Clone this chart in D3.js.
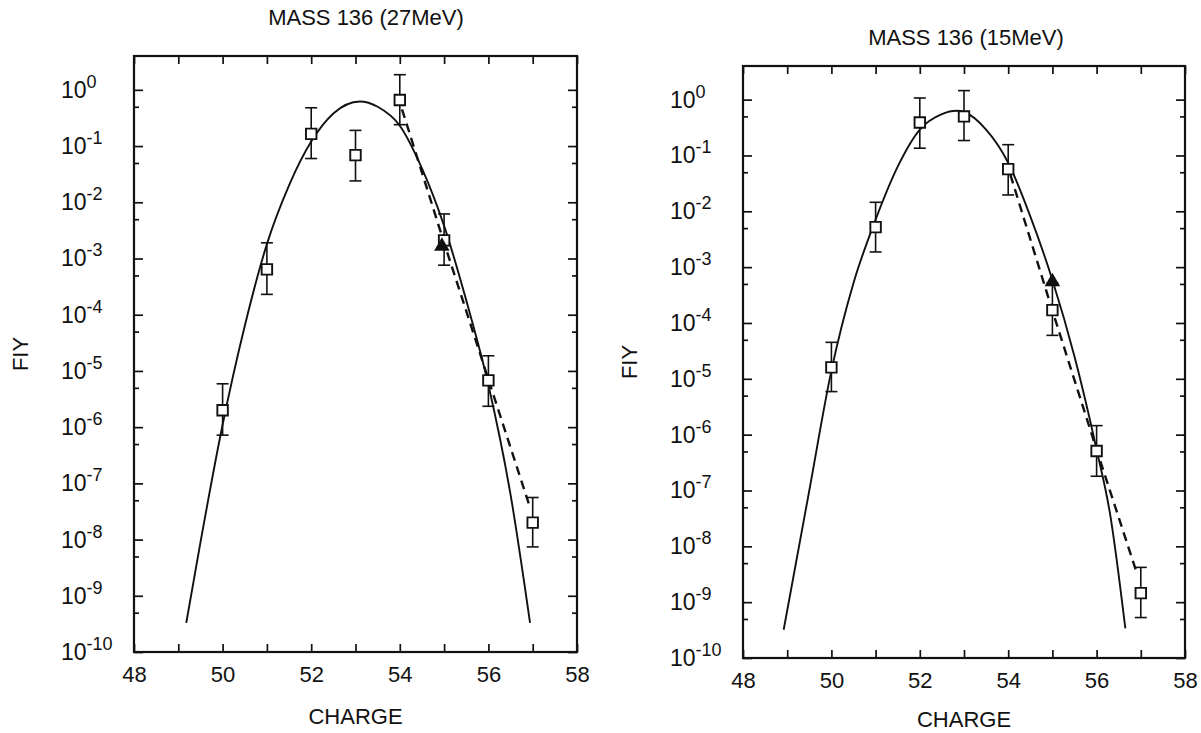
<!DOCTYPE html>
<html>
<head>
<meta charset="utf-8">
<script src="https://cdn.jsdelivr.net/npm/d3@7"></script>
<style>
  body { margin: 0; background: #fff; }
  svg { display: block; font-family: "Liberation Sans", Arial, Helvetica, sans-serif; }
</style>
</head>
<body>
<svg id="chart" width="1201" height="733"></svg>
<script>
// shared axes
const charge = [50, 51, 52, 53, 54, 55, 56, 57];
const xTicks = [48, 49, 50, 51, 52, 53, 54, 55, 56, 57, 58];
const yExps = [0, -1, -2, -3, -4, -5, -6, -7, -8, -9, -10];
const yMinor = [5e-1, 5e-2, 5e-3, 5e-4, 5e-5, 5e-6, 5e-7, 5e-8, 5e-9, 5e-10];

// 27 MeV panel
const fiy27 = [2.0e-6, 6.4e-4, 0.165, 0.069, 0.66, 2.1e-3, 6.8e-6, 2.0e-8];
const hi27 = [5.9e-6, 1.9e-3, 0.48, 0.19, 1.86, 6.2e-3, 1.86e-5, 5.6e-8];
const lo27 = [7.2e-7, 2.3e-4, 0.06, 0.024, 0.24, 7.6e-4, 2.35e-6, 7.4e-9];
const tri27 = [[54.95, 1.65e-3]];
const fitX27 = [49.18, 49.5, 50, 50.5, 51, 51.5, 52, 52.5, 53.1, 53.5, 54, 54.5, 55, 55.5, 56, 56.5, 56.94];
const fitY27 = [3.3e-10, 8.9e-9, 1.1e-6, 6.3e-5, 1.8e-3, 0.02, 0.12, 0.38, 0.62, 0.5, 0.23, 0.04, 3.8e-3, 1.8e-4, 5.6e-6, 6.3e-8, 3.3e-10];
const dashX27 = [54.05, 55, 56, 56.95];
const dashY27 = [0.45, 1.9e-3, 7.1e-6, 3.5e-8];

// 15 MeV panel
const fiy15 = [1.6e-5, 5.2e-3, 0.39, 0.5, 0.057, 1.7e-4, 5.1e-7, 1.45e-9];
const hi15 = [4.5e-5, 1.45e-2, 1.07, 1.45, 0.156, 5.2e-4, 1.45e-6, 4.2e-9];
const lo15 = [5.9e-6, 1.87e-3, 0.135, 0.185, 0.0196, 6e-5, 1.8e-7, 5.3e-10];
const tri15 = [[55, 5.5e-4]];
const fitX15 = [48.92, 49.5, 50, 50.5, 51, 51.5, 52, 52.5, 52.83, 53, 53.5, 54, 54.5, 55, 55.5, 56, 56.3, 56.65];
const fitY15 = [3.2e-10, 1e-7, 1.4e-5, 5.2e-4, 7.1e-3, 0.063, 0.29, 0.55, 0.63, 0.6, 0.29, 0.074, 8.1e-3, 5.9e-4, 2.5e-5, 5.4e-7, 4e-8, 3.4e-10];
const dashX15 = [54.05, 55, 56, 56.9];
const dashY15 = [0.045, 1.66e-4, 5.4e-7, 3.5e-9];

const svg = d3.select("#chart");
const ink = "#111";

function drawPanel(p) {
  const x = d3.scaleLinear().domain([48, 58]).range([p.left, p.right]);
  const y = d3.scaleLog().domain([1e-10, 4]).range([p.bottom, p.top]);
  const g = svg.append("g");

  // title and axis names
  g.append("text").attr("x", p.titleX).attr("y", p.titleY)
    .attr("text-anchor", "middle").attr("font-size", 22).attr("fill", ink)
    .text(p.title);
  g.append("text").attr("x", (p.left + p.right) / 2).attr("y", p.bottom + p.xNameGap)
    .attr("text-anchor", "middle").attr("font-size", 22).attr("fill", ink)
    .text("CHARGE");
  g.append("text")
    .attr("transform", `translate(${p.left - 106},${(p.top + p.bottom) / 2}) rotate(-90)`)
    .attr("text-anchor", "middle").attr("font-size", 22).attr("fill", ink)
    .text("FIY");

  // x ticks, inside, top and bottom
  const bottomAxis = g.append("g").attr("transform", `translate(0,${p.bottom})`)
    .call(d3.axisBottom(x).tickValues(xTicks).tickSizeInner(-8).tickSizeOuter(0)
      .tickPadding(14).tickFormat(d => d % 2 === 0 ? d : ""));
  g.append("g").attr("transform", `translate(0,${p.top})`)
    .call(d3.axisTop(x).tickValues(xTicks).tickSizeInner(-8).tickSizeOuter(0).tickFormat(""));

  // y ticks, inside, both sides
  const decades = yExps.map(e => Math.pow(10, e));
  [[d3.axisLeft, p.left], [d3.axisRight, p.right]].forEach(([ax, pos]) => {
    g.append("g").attr("transform", `translate(${pos},0)`)
      .call(ax(y).tickValues(decades).tickSizeInner(-9).tickSizeOuter(0).tickFormat(""));
    g.append("g").attr("transform", `translate(${pos},0)`)
      .call(ax(y).tickValues(yMinor).tickSizeInner(-5).tickSizeOuter(0).tickFormat(""));
  });
  g.selectAll(".domain").remove();
  g.selectAll(".tick line").attr("stroke", ink).attr("stroke-width", 1.7);
  bottomAxis.selectAll("text").attr("font-size", 22).attr("fill", ink)
    .attr("font-family", "Liberation Sans, Arial, sans-serif");

  // y tick labels 10^n
  const lab = g.selectAll(".ylab").data(yExps).join("text")
    .attr("class", "ylab")
    .attr("x", p.left - 73)
    .attr("y", e => y(Math.pow(10, e)) + 8)
    .attr("font-size", 23).attr("fill", ink);
  lab.append("tspan").text("10");
  lab.append("tspan").attr("dy", -10).attr("font-size", 18).text(e => e);

  // frame
  g.append("rect").attr("x", p.left).attr("y", p.top)
    .attr("width", p.right - p.left).attr("height", p.bottom - p.top)
    .attr("fill", "none").attr("stroke", ink).attr("stroke-width", 2.2);

  // fitted curve and dashed line
  const line = d3.line().x(d => x(d[0])).y(d => y(d[1])).curve(d3.curveMonotoneX);
  g.append("path").datum(p.fitX.map((v, i) => [v, p.fitY[i]]))
    .attr("d", line).attr("fill", "none").attr("stroke", ink).attr("stroke-width", 1.9);
  g.append("path").datum(p.dashX.map((v, i) => [v, p.dashY[i]]))
    .attr("d", d3.line().x(d => x(d[0])).y(d => y(d[1])))
    .attr("fill", "none").attr("stroke", ink).attr("stroke-width", 2.4)
    .attr("stroke-dasharray", "9,6");

  // error bars
  const pts = charge.map((c, i) => ({ c, v: p.fiy[i], hi: p.hi[i], lo: p.lo[i] }));
  const eb = g.selectAll(".eb").data(pts).join("g").attr("class", "eb")
    .attr("stroke", ink).attr("stroke-width", 1.6);
  eb.append("line").attr("x1", d => x(d.c)).attr("x2", d => x(d.c))
    .attr("y1", d => y(d.hi)).attr("y2", d => y(d.lo));
  eb.append("line").attr("x1", d => x(d.c) - 6).attr("x2", d => x(d.c) + 6)
    .attr("y1", d => y(d.hi)).attr("y2", d => y(d.hi));
  eb.append("line").attr("x1", d => x(d.c) - 6).attr("x2", d => x(d.c) + 6)
    .attr("y1", d => y(d.lo)).attr("y2", d => y(d.lo));

  // open squares, then filled triangle on top
  g.selectAll(".sq").data(pts).join("path").attr("class", "sq")
    .attr("d", d3.symbol(d3.symbolSquare, 110))
    .attr("transform", d => `translate(${x(d.c)},${y(d.v)})`)
    .attr("fill", "#fff").attr("stroke", ink).attr("stroke-width", 1.9);
  g.selectAll(".tri").data(p.tri).join("path").attr("class", "tri")
    .attr("d", d3.symbol(d3.symbolTriangle, 105))
    .attr("transform", d => `translate(${x(d[0])},${y(d[1])})`)
    .attr("fill", ink);
}

drawPanel({
  title: "MASS 136 (27MeV)", titleX: 366, titleY: 25, xNameGap: 72,
  left: 134, right: 577, top: 56, bottom: 652,
  fiy: fiy27, hi: hi27, lo: lo27, tri: tri27,
  fitX: fitX27, fitY: fitY27, dashX: dashX27, dashY: dashY27
});
drawPanel({
  title: "MASS 136 (15MeV)", titleX: 966, titleY: 45, xNameGap: 69,
  left: 743, right: 1185, top: 66, bottom: 658,
  fiy: fiy15, hi: hi15, lo: lo15, tri: tri15,
  fitX: fitX15, fitY: fitY15, dashX: dashX15, dashY: dashY15
});
</script>
</body>
</html>
